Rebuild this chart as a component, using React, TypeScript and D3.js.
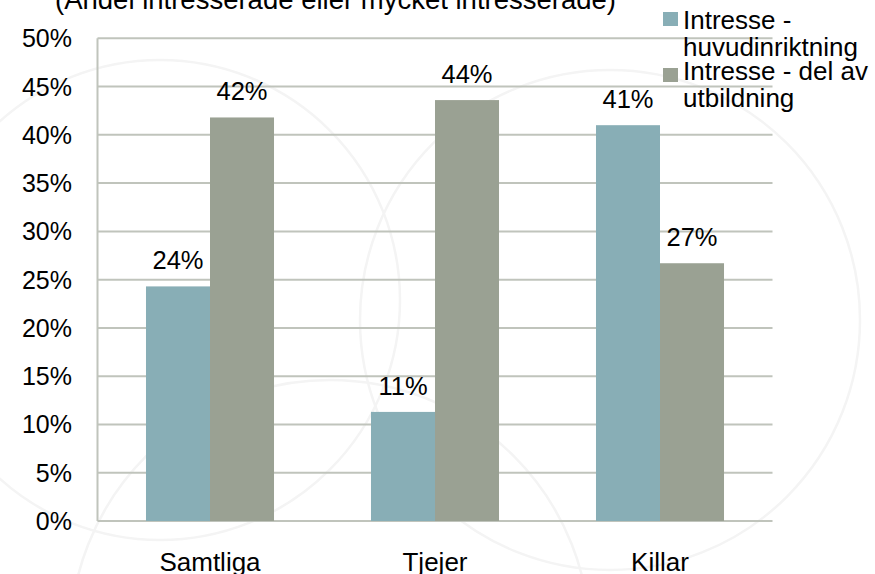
import React from 'react';
import * as d3 from 'd3';

const title = '(Andel intresserade eller mycket intresserade)';
const categories = ['Samtliga', 'Tjejer', 'Killar'];
const seriesNames = ['Intresse - huvudinriktning', 'Intresse - del av utbildning'];
const huvudinriktning = [0.243, 0.113, 0.41];
const delAvUtbildning = [0.418, 0.436, 0.267];
const yTicks = [0, 0.05, 0.1, 0.15, 0.2, 0.25, 0.3, 0.35, 0.4, 0.45, 0.5];
const legendLines = [['Intresse -', 'huvudinriktning'], ['Intresse - del av', 'utbildning']];

const colors = ['#88aeb6', '#9aa193'];
const font = '"Liberation Sans", Arial, sans-serif';

const App: React.FC = () => {
    const width = 875;
    const height = 574;
    const margin = { top: 38.3, right: 102.5, bottom: 53, left: 97.5 };

    const x0 = d3.scaleBand<string>()
        .domain(categories)
        .range([margin.left, width - margin.right])
        .paddingInner(0.431)
        .paddingOuter(0.2155);

    const x1 = d3.scaleBand<number>()
        .domain([0, 1])
        .range([0, x0.bandwidth()])
        .padding(0);

    const y = d3.scaleLinear()
        .domain([0, 0.5])
        .range([height - margin.bottom, margin.top]);

    const fmt = d3.format('.0%');
    const series = [huvudinriktning, delAvUtbildning];

    return (
        <svg width={width} height={height}
            style={{ position: 'absolute', left: 0, top: 0, background: '#fff' }}
            fontFamily={font}>
            {/* faint watermark circles in the background */}
            <g fill="none" stroke="#f4f4f4" strokeWidth={2.5}>
                <circle cx={610} cy={320} r={250} />
                <circle cx={330} cy={640} r={260} />
                <circle cx={160} cy={300} r={240} />
            </g>

            <text x={335.5} y={8.5} textAnchor="middle" fontSize={27.5} fill="#000">{title}</text>

            {/* gridlines */}
            {yTicks.map(t => (
                <line key={t} x1={margin.left} x2={width - margin.right}
                    y1={y(t)} y2={y(t)} stroke="#c0c4bc" strokeWidth={2} />
            ))}
            <line x1={margin.left} x2={margin.left} y1={y(0.5)} y2={y(0)} stroke="#c0c4bc" strokeWidth={2} />

            {/* y tick labels */}
            {yTicks.map(t => (
                <text key={t} x={72} y={y(t) + 9} textAnchor="end" fontSize={25} fill="#000">{fmt(t)}</text>
            ))}

            {/* bars + labels */}
            {categories.map((c, i) => (
                <g key={c} transform={`translate(${x0(c)},0)`}>
                    {series.map((s, j) => (
                        <rect key={j} x={x1(j)} y={y(s[i])} width={x1.bandwidth()}
                            height={y(0) - y(s[i])} fill={colors[j]} />
                    ))}
                    {series.map((s, j) => (
                        <text key={'l' + j} x={(x1(j) ?? 0) + x1.bandwidth() / 2} y={y(s[i]) - 17}
                            textAnchor="middle" fontSize={25.5} fill="#000">{fmt(s[i])}</text>
                    ))}
                </g>
            ))}

            {/* category labels */}
            {categories.map(c => (
                <text key={c} x={(x0(c) ?? 0) + x0.bandwidth() / 2} y={570.5}
                    textAnchor="middle" fontSize={26} fill="#000">{c}</text>
            ))}

            {/* legend */}
            {seriesNames.map((name, j) => (
                <g key={name}>
                    <rect x={663} y={j === 0 ? 12 : 68} width={15} height={14} fill={colors[j]} />
                    {legendLines[j].map((line, k) => (
                        <text key={k} x={683} y={(j === 0 ? 29.3 : 80) + k * 26.7}
                            fontSize={26} fill="#000">{line}</text>
                    ))}
                </g>
            ))}
        </svg>
    );
};

export default App;
